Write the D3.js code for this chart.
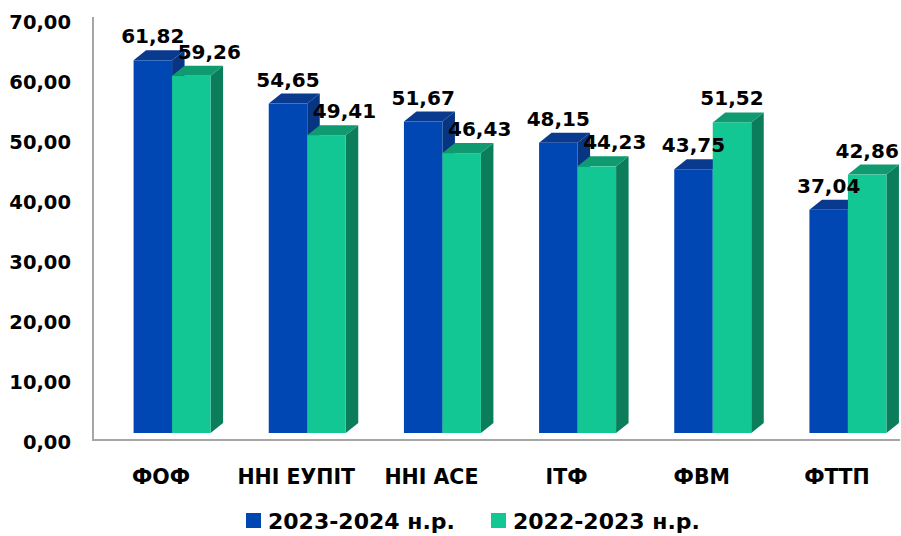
<!DOCTYPE html>
<html>
<head>
<meta charset="utf-8">
<script src="https://cdn.jsdelivr.net/npm/d3@7"></script>
<style>
  body { margin: 0; background: #fff; }
  text { font-family: "DejaVu Sans", sans-serif; font-weight: bold; fill: #000; }
</style>
</head>
<body>
<div id="chart"></div>
<script>
var categories = ["ФОФ", "ННІ ЕУПІТ", "ННІ АСЕ", "ІТФ", "ФВМ", "ФТТП"];
var seriesNames = ["2023-2024 н.р.", "2022-2023 н.р."];
var values2324 = [61.82, 54.65, 51.67, 48.15, 43.75, 37.04];
var values2223 = [59.26, 49.41, 46.43, 44.23, 51.52, 42.86];
var yTicks = [0, 10, 20, 30, 40, 50, 60, 70];

var width = 901, height = 536;
var barW = 38.5, depthX = 12.5, depthY = -10;

var colors = [
    { front: "#0047b3", top: "#0a3a8e", side: "#073582" },
    { front: "#13c795", top: "#0f9a70", side: "#0b7d5b" }
];

var svg = d3.select("#chart")
    .append("svg")
    .attr("width", width)
    .attr("height", height);

var x = d3.scaleBand()
    .domain(categories)
    .range([104.5, 915.5]);

// axis scale (back wall) and front-face scale of the 3D bars
var y = d3.scaleLinear().domain([0, 70]).range([440, 20]);
var yFront = d3.scaleLinear().domain([0, 70]).range([433, 11]);

// axes lines
svg.append("line")
    .attr("x1", 93).attr("x2", 93)
    .attr("y1", y(70) - 3).attr("y2", y(0) + 1)
    .attr("stroke", "#a6a6a6").attr("stroke-width", 2);
svg.append("line")
    .attr("x1", 92).attr("x2", 900)
    .attr("y1", y(0)).attr("y2", y(0))
    .attr("stroke", "#a6a6a6").attr("stroke-width", 2);

function fmt(v) { return d3.format(".2f")(v).replace(".", ","); }

// y tick labels
svg.append("g")
    .selectAll("text")
    .data(yTicks)
    .enter()
    .append("text")
    .attr("x", 71)
    .attr("y", function (d) { return y(d) + 2; })
    .attr("text-anchor", "end")
    .attr("dominant-baseline", "central")
    .style("font-size", "19.5px")
    .text(fmt);

// category labels
svg.append("g")
    .selectAll("text")
    .data(categories)
    .enter()
    .append("text")
    .attr("x", function (d) { return x(d) + x.bandwidth() / 2 - 11; })
    .attr("y", 484)
    .attr("text-anchor", "middle")
    .style("font-size", "20.5px")
    .text(function (d) { return d; });

function drawBar(g, x0, v, c) {
    var top = yFront(v), bottom = yFront(0), x1 = x0 + barW;
    g.append("path")
        .attr("d", "M" + x1 + "," + bottom + "L" + (x1 + depthX) + "," + (bottom + depthY) +
            "L" + (x1 + depthX) + "," + (top + depthY) + "L" + x1 + "," + top + "Z")
        .attr("fill", c.side);
    g.append("path")
        .attr("d", "M" + x0 + "," + top + "L" + (x0 + depthX) + "," + (top + depthY) +
            "L" + (x1 + depthX) + "," + (top + depthY) + "L" + x1 + "," + top + "Z")
        .attr("fill", c.top);
    g.append("rect")
        .attr("x", x0).attr("y", top)
        .attr("width", barW).attr("height", bottom - top)
        .attr("fill", c.front);
}

var bars = svg.append("g");
categories.forEach(function (cat, i) {
    var cx = x(cat) + x.bandwidth() / 2;
    drawBar(bars, cx - barW, values2324[i], colors[0]);
    drawBar(bars, cx, values2223[i], colors[1]);
});

var labels = svg.append("g");
categories.forEach(function (cat, i) {
    var cx = x(cat) + x.bandwidth() / 2;
    labels.append("text")
        .attr("x", cx - barW / 2)
        .attr("y", yFront(values2324[i]) - 17)
        .attr("text-anchor", "middle")
        .style("font-size", "20px")
        .text(fmt(values2324[i]));
    // the lower second bar gets its label pushed right to clear the neighbour
    var shift = values2223[i] < values2324[i] ? 18 : 0;
    labels.append("text")
        .attr("x", cx + barW / 2 + shift)
        .attr("y", yFront(values2223[i]) - 17)
        .attr("text-anchor", "middle")
        .style("font-size", "20px")
        .text(fmt(values2223[i]));
});

// legend
var legend = svg.append("g");
var legendX = [246, 491];
seriesNames.forEach(function (name, i) {
    legend.append("rect")
        .attr("x", legendX[i]).attr("y", 513)
        .attr("width", 15).attr("height", 15)
        .attr("fill", colors[i].front);
    legend.append("text")
        .attr("x", legendX[i] + 22)
        .attr("y", 529)
        .style("font-size", "22px")
        .text(name);
});
</script>
</body>
</html>
